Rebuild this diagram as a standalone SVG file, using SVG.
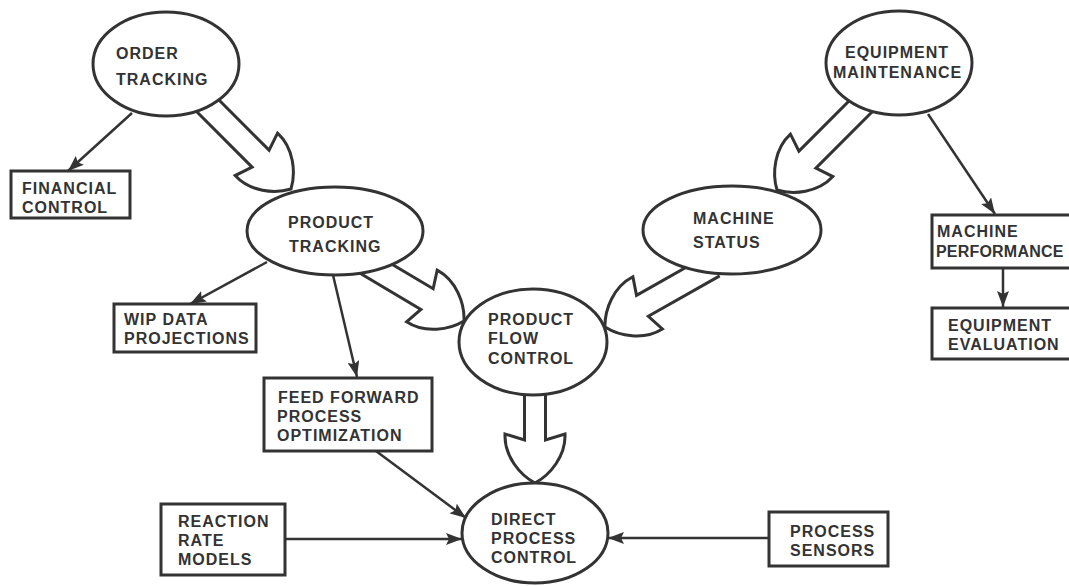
<svg xmlns="http://www.w3.org/2000/svg" width="1069" height="586" viewBox="0 0 1069 586">
<style>
.n ellipse, .n rect { fill: #fff; stroke: #333; stroke-width: 3; }
.t { font-family: "Liberation Sans", Arial, sans-serif; font-weight: bold; font-size: 16px; letter-spacing: 1px; fill: #333; }
.thin { fill: none; stroke: #333; stroke-width: 2.5; marker-end: url(#ah); }
.fat { fill: #fff; stroke: #333; stroke-width: 3; stroke-linejoin: miter; }
</style>
<defs>
<marker id="ah" markerUnits="userSpaceOnUse" markerWidth="18" markerHeight="12" refX="16" refY="6" orient="auto">
<path d="M0,0 L16,6 L0,12 L3,6 z" fill="#333"/>
</marker>
</defs>
<rect width="1069" height="586" fill="#fff"/>
<g id="connectors">
<path class="fat" transform="translate(291,189) rotate(-45)" d="M-12,-135 L-12,-43 L-30,-49 C-31,-27 -15,-8 0,0 C15,-8 31,-27 30,-49 L12,-43 L12,-135"/>
<path class="fat" transform="translate(777,190) rotate(45)" d="M-12,-135 L-12,-43 L-30,-49 C-31,-27 -15,-8 0,0 C15,-8 31,-27 30,-49 L12,-43 L12,-135"/>
<path class="fat" transform="translate(464,321) rotate(-59.3)" d="M-12,-125 L-12,-43 L-30,-49 C-31,-27 -15,-8 0,0 C15,-8 31,-27 30,-49 L12,-43 L12,-125"/>
<path class="fat" transform="translate(605,327) rotate(60.5)" d="M-12,-125 L-12,-43 L-30,-49 C-31,-27 -15,-8 0,0 C15,-8 31,-27 30,-49 L12,-43 L12,-125"/>
<path class="fat" transform="translate(535,483)" d="M-10.5,-105 L-10.5,-43 L-30,-49 C-31,-27 -15,-8 0,0 C15,-8 31,-27 30,-49 L10.5,-43 L10.5,-105"/>
<line class="thin" x1="132" y1="113" x2="68" y2="171"/>
<line class="thin" x1="928" y1="114" x2="995" y2="214"/>
<line class="thin" x1="1003" y1="268" x2="1003" y2="307"/>
<line class="thin" x1="267" y1="262" x2="190" y2="304"/>
<line class="thin" x1="333" y1="275" x2="357" y2="377"/>
<line class="thin" x1="376" y1="451" x2="466" y2="518"/>
<line class="thin" x1="285" y1="539" x2="462" y2="539"/>
<line class="thin" x1="769" y1="538" x2="608" y2="538"/>
</g>
<g class="n">
<g id="order-tracking">
<ellipse cx="166" cy="64" rx="73" ry="52"/>
<text class="t" x="116" y="59">ORDER</text>
<text class="t" x="116" y="85">TRACKING</text>
</g>
<g id="financial-control">
<rect x="11" y="171" width="119" height="47"/>
<text class="t" x="22" y="194">FINANCIAL</text>
<text class="t" x="22" y="213">CONTROL</text>
</g>
<g id="product-tracking">
<ellipse cx="335" cy="231" rx="88" ry="44"/>
<text class="t" x="288" y="228">PRODUCT</text>
<text class="t" x="289" y="252">TRACKING</text>
</g>
<g id="equipment-maintenance">
<ellipse cx="899" cy="63" rx="73" ry="52"/>
<text class="t" x="845" y="58">EQUIPMENT</text>
<text class="t" x="833" y="78">MAINTENANCE</text>
</g>
<g id="machine-status">
<ellipse cx="732" cy="230" rx="89" ry="44"/>
<text class="t" x="693" y="224">MACHINE</text>
<text class="t" x="693" y="248">STATUS</text>
</g>
<g id="machine-performance">
<rect x="932" y="215" width="142" height="53"/>
<text class="t" x="937" y="237">MACHINE</text>
<text class="t" x="936" y="257" style="letter-spacing:0.2px">PERFORMANCE</text>
</g>
<g id="equipment-evaluation">
<rect x="932" y="308" width="142" height="51"/>
<text class="t" x="948" y="331">EQUIPMENT</text>
<text class="t" x="948" y="350">EVALUATION</text>
</g>
<g id="wip-data-projections">
<rect x="114" y="304" width="142" height="48"/>
<text class="t" x="124" y="325">WIP DATA</text>
<text class="t" x="124" y="344">PROJECTIONS</text>
</g>
<g id="product-flow-control">
<ellipse cx="533" cy="342" rx="74" ry="53"/>
<text class="t" x="488" y="325">PRODUCT</text>
<text class="t" x="488" y="344">FLOW</text>
<text class="t" x="488" y="364">CONTROL</text>
</g>
<g id="feed-forward">
<rect x="264" y="378" width="168" height="73"/>
<text class="t" x="278" y="403">FEED FORWARD</text>
<text class="t" x="277" y="422">PROCESS</text>
<text class="t" x="277" y="441">OPTIMIZATION</text>
</g>
<g id="reaction-rate-models">
<rect x="161" y="504" width="124" height="71"/>
<text class="t" x="178" y="527">REACTION</text>
<text class="t" x="178" y="546">RATE</text>
<text class="t" x="178" y="565">MODELS</text>
</g>
<g id="direct-process-control">
<ellipse cx="535" cy="533" rx="73" ry="50"/>
<text class="t" x="491" y="525">DIRECT</text>
<text class="t" x="491" y="544">PROCESS</text>
<text class="t" x="491" y="563">CONTROL</text>
</g>
<g id="process-sensors">
<rect x="769" y="512" width="119" height="54"/>
<text class="t" x="790" y="537">PROCESS</text>
<text class="t" x="790" y="556">SENSORS</text>
</g>
</g>
</svg>
